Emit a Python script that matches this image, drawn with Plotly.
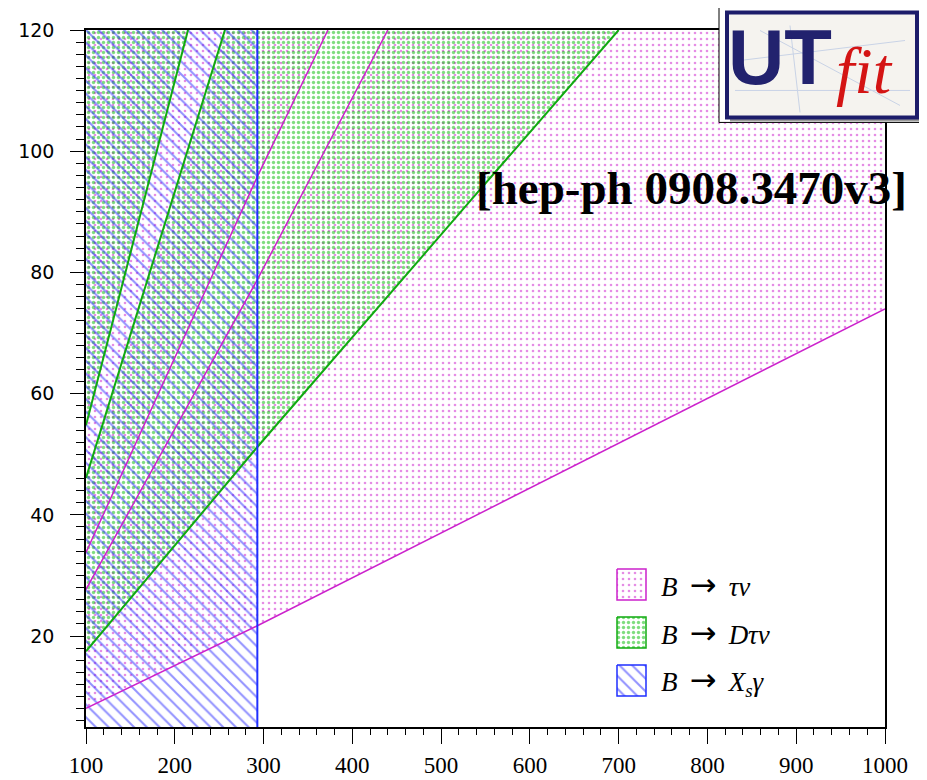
import plotly.graph_objects as go

# ---------------- data (mH [GeV], tan beta) ----------------
X_RANGE = [100, 1000]
Y_RANGE = [5, 120]
x_ticks = [100, 200, 300, 400, 500, 600, 700, 800, 900, 1000]
y_ticks = [20, 40, 60, 80, 100, 120]

# B -> tau nu boundaries
taunu_low_x = [100, 293, 1000]
taunu_low_y = [8.1, 21.7, 74.0]
taunu_a_x = [100, 293, 440]
taunu_a_y = [27.7, 78.8, 120]
taunu_b_x = [100, 293, 372.5]
taunu_b_y = [33.8, 95.8, 120]

# B -> D tau nu boundaries
dtaunu_low_x = [100, 293, 534, 700]
dtaunu_low_y = [17.5, 51.2, 92, 120]
dtaunu_d_x = [100, 256.5]
dtaunu_d_y = [46.1, 120]
dtaunu_c_x = [100, 214.9]
dtaunu_c_y = [54.8, 120]

# B -> Xs gamma : excluded below this mH
xsg_mh_min = 293

ARROW = '\u2009<span style="font-family:DejaVu Sans;font-size:32px">\u2192</span>\u2009'
legend_labels = ["<i>B</i> " + ARROW + " <i>\u03c4\u03bd</i>",
                 "<i>B</i> " + ARROW + " <i>D\u03c4\u03bd</i>",
                 "<i>B</i> " + ARROW + " <i>X</i><sub><i>s</i></sub><i>\u03b3</i>"]

# ---------------- styles ----------------
MAG = "#cc22cc"
GRN = "#11aa11"
BLU = "#1f2fff"
pat_mag = dict(shape=".", fgcolor="#cc1ccc", bgcolor="rgba(0,0,0,0)", size=6, solidity=0.15)
pat_grn = dict(shape=".", fgcolor="#00bb00", bgcolor="rgba(0,0,0,0)", size=5, solidity=0.36)
pat_blu = dict(shape="\\", fgcolor="#2424ff", bgcolor="rgba(0,0,0,0)", size=9, solidity=0.22)

fig = go.Figure()

def area(xs, ys, pat):
    fig.add_trace(go.Scatter(x=xs, y=ys, mode="none", fill="toself",
                             fillcolor="rgba(0,0,0,0)", fillpattern=pat,
                             hoverinfo="skip", showlegend=False))

def line(xs, ys, color, width):
    fig.add_trace(go.Scatter(x=xs, y=ys, mode="lines",
                             line=dict(color=color, width=width),
                             hoverinfo="skip", showlegend=False))

# magenta (B -> tau nu) allowed regions
area(taunu_low_x + [X_RANGE[1]] + taunu_a_x[::-1],
     taunu_low_y + [Y_RANGE[1]] + taunu_a_y[::-1], pat_mag)
area(taunu_b_x + [X_RANGE[0]], taunu_b_y + [Y_RANGE[1]], pat_mag)

# green (B -> D tau nu) allowed regions
area(dtaunu_low_x + dtaunu_d_x[::-1], dtaunu_low_y + dtaunu_d_y[::-1], pat_grn)
area(dtaunu_c_x + [X_RANGE[0]], dtaunu_c_y + [Y_RANGE[1]], pat_grn)

# blue (B -> Xs gamma) excluded region
area([X_RANGE[0], xsg_mh_min, xsg_mh_min, X_RANGE[0]],
     [Y_RANGE[0], Y_RANGE[0], Y_RANGE[1], Y_RANGE[1]], pat_blu)

# boundary lines
line(taunu_low_x, taunu_low_y, MAG, 1.5)
line(taunu_a_x, taunu_a_y, MAG, 1.5)
line(taunu_b_x, taunu_b_y, MAG, 1.5)
line(dtaunu_low_x, dtaunu_low_y, GRN, 2)
line(dtaunu_d_x, dtaunu_d_y, GRN, 2)
line(dtaunu_c_x, dtaunu_c_y, GRN, 2)
line([xsg_mh_min, xsg_mh_min], Y_RANGE, BLU, 2)

# ---------------- page-pixel helpers (page has an 8px body margin) ----------------
OFF = 8
PAGE_W, PAGE_H = 927, 780
W, H = PAGE_W - OFF, PAGE_H - OFF
L, R, T, B = 86, 885, 29.5, 727          # plot area in page pixels

def px_x(px):
    return X_RANGE[0] + (px - L) / (R - L) * (X_RANGE[1] - X_RANGE[0])

def px_y(py):
    return Y_RANGE[1] - (py - T) / (B - T) * (Y_RANGE[1] - Y_RANGE[0])

def pap_x(px):
    return (px - L) / (R - L)

def pap_y(py):
    return (B - py) / (B - T)

# legend (custom pattern boxes + labels)
leg_rows = [(569, 600), (617, 648), (665, 696)]
leg_pats = [pat_mag, pat_grn, pat_blu]
leg_cols = [MAG, GRN, BLU]
for (y0, y1), pat, col, lab in zip(leg_rows, leg_pats, leg_cols, legend_labels):
    bx = [px_x(617), px_x(646), px_x(646), px_x(617), px_x(617)]
    by = [px_y(y0), px_y(y0), px_y(y1), px_y(y1), px_y(y0)]
    fig.add_trace(go.Scatter(x=bx, y=by, mode="lines", fill="toself",
                             fillcolor="rgba(0,0,0,0)", fillpattern=pat,
                             line=dict(color=col, width=1.5),
                             hoverinfo="skip", showlegend=False))
    fig.add_annotation(x=pap_x(659), y=pap_y((y0 + y1) / 2), xref="paper", yref="paper",
                       text=lab, showarrow=False, xanchor="left", yanchor="middle",
                       font=dict(family="Liberation Serif, DejaVu Serif, serif", size=27, color="black"))

# hep-ph label
fig.add_annotation(x=pap_x(691), y=pap_y(188), xref="paper", yref="paper",
                   text="<b>[hep-ph 0908.3470v3]</b>", showarrow=False,
                   xanchor="center", yanchor="middle",
                   font=dict(family="Liberation Serif, Times New Roman, serif", size=47, color="black"))

# UTfit logo
shapes = []
shapes.append(dict(type="rect", xref="paper", yref="paper",
                   x0=pap_x(719), x1=pap_x(926), y0=pap_y(122), y1=pap_y(6),
                   line=dict(color="black", width=1), fillcolor="white", layer="above"))
shapes.append(dict(type="rect", xref="paper", yref="paper",
                   x0=pap_x(730), x1=pap_x(921), y0=pap_y(121), y1=pap_y(16),
                   line=dict(width=0), fillcolor="#9a9a9a", layer="above"))
shapes.append(dict(type="rect", xref="paper", yref="paper",
                   x0=pap_x(727), x1=pap_x(917), y0=pap_y(117), y1=pap_y(12),
                   line=dict(color="#1c1c6a", width=4), fillcolor="#f5f3ef", layer="above"))
for (xa, ya, xb, yb) in [(735, 90, 910, 90), (760, 30, 900, 105), (740, 60, 905, 40), (790, 25, 800, 112)]:
    shapes.append(dict(type="line", xref="paper", yref="paper",
                       x0=pap_x(xa), y0=pap_y(ya), x1=pap_x(xb), y1=pap_y(yb),
                       line=dict(color="#c9d3e6", width=1), layer="above"))
fig.update_layout(shapes=shapes)

fig.add_annotation(x=pap_x(780), y=pap_y(57), xref="paper", yref="paper",
                   text="<b>UT</b>", showarrow=False, xanchor="center", yanchor="middle",
                   font=dict(family="Liberation Sans Narrow, Liberation Sans, Arial, sans-serif",
                             size=78, color="#22226e"))
fig.add_annotation(x=pap_x(864), y=pap_y(70), xref="paper", yref="paper",
                   text="<i>fit</i>", showarrow=False, xanchor="center", yanchor="middle",
                   font=dict(family="Liberation Serif, Times New Roman, serif",
                             size=66, color="#d41414"))

fig.update_layout(
    width=W, height=H,
    margin=dict(l=L - OFF, r=W - (R - OFF), t=T - OFF, b=H - (B - OFF), pad=0, autoexpand=False),
    paper_bgcolor="white", plot_bgcolor="white",
    showlegend=False,
    xaxis=dict(range=X_RANGE, tickmode="array", tickvals=x_ticks, automargin=False,
               ticks="outside", ticklen=15, tickwidth=1.2, tickcolor="black",
               minor=dict(dtick=20, ticks="outside", ticklen=6, tickcolor="black", tickwidth=1),
               showline=True, linecolor="black", linewidth=1.5, mirror=True,
               showgrid=False, zeroline=False, ticklabelstandoff=2,
               tickfont=dict(family="Liberation Serif, Times New Roman, serif", size=23, color="black")),
    yaxis=dict(range=Y_RANGE, tickmode="array", tickvals=y_ticks, automargin=False,
               ticks="outside", ticklen=14, tickwidth=1.2, tickcolor="black",
               minor=dict(dtick=2, tick0=0, ticks="outside", ticklen=8, tickcolor="black", tickwidth=1),
               showline=True, linecolor="black", linewidth=1.5, mirror=True,
               showgrid=False, zeroline=False, ticklabelstandoff=12,
               tickfont=dict(family="DejaVu Sans, sans-serif", size=19, color="black")),
)

fig.write_html("out.html")
